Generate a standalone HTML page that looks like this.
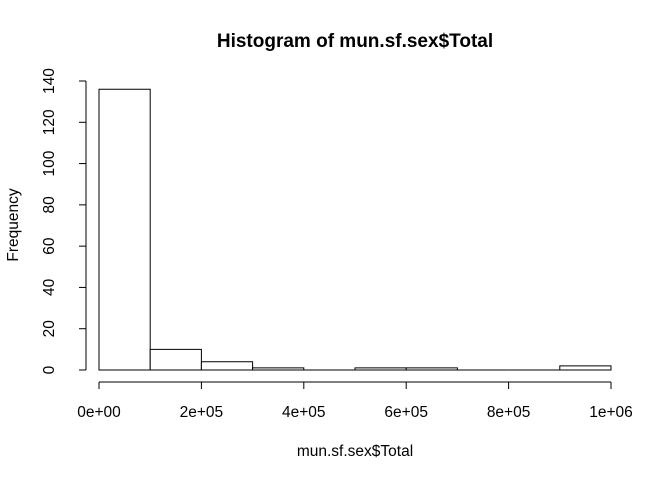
<!DOCTYPE html>
<html><head><meta charset="utf-8"><style>body{margin:0;background:#fff}svg{display:block;font-family:"Liberation Sans",sans-serif}</style></head>
<body>
<svg id="chart" width="672" height="480" xmlns="http://www.w3.org/2000/svg">
<text x="355" y="47" text-anchor="middle" font-weight="bold" font-size="19">Histogram of mun.sf.sex$Total</text>
<text x="355" y="456" text-anchor="middle" font-size="15.5">mun.sf.sex$Total</text>
<text transform="translate(18,225) rotate(-90)" text-anchor="middle" font-size="15.5">Frequency</text>
<g id="bars"></g><g id="xaxis"></g><g id="yaxis"></g>
</svg>
<script>
const binEdges = [0,100000,200000,300000,400000,500000,600000,700000,800000,900000,1000000];
const counts = [136,10,4,1,0,1,1,0,0,2];
const xTicks = [0,200000,400000,600000,800000,1000000];
const xTickLabels = ["0e+00","2e+05","4e+05","6e+05","8e+05","1e+06"];
const yTicks = [0,20,40,60,80,100,120,140];
const NS="http://www.w3.org/2000/svg";
const x=v=>99+v/1e6*512, y=v=>370-v*(289/140);
function mk(t,a,p){const e=document.createElementNS(NS,t);for(const k in a)e.setAttribute(k,a[k]);p.appendChild(e);return e;}
const bars=document.getElementById('bars');
counts.forEach((c,i)=>{
  const x0=x(binEdges[i]),x1=x(binEdges[i+1]),y0=y(0),y1=y(c);
  const r=mk('path',{d:`M${x0},${y0}L${x0},${y1}L${x1},${y1}L${x1},${y0}Z`,fill:'#fff',stroke:'#000','stroke-width':1},bars);
  
  
});
const xa=document.getElementById('xaxis');
mk('line',{x1:x(xTicks[0]),x2:x(xTicks[xTicks.length-1]),y1:382,y2:382,stroke:'#000'},xa);
xTicks.forEach((t,i)=>{
  mk('line',{x1:x(t),x2:x(t),y1:382,y2:389,stroke:'#000'},xa);
  const tx=mk('text',{x:x(t),y:417,'text-anchor':'middle','font-size':15.5},xa);tx.textContent=xTickLabels[i];
  
  
});
const ya=document.getElementById('yaxis');
mk('line',{x1:86,x2:86,y1:y(0),y2:y(140),stroke:'#000'},ya);
yTicks.forEach(t=>{
  mk('line',{x1:79,x2:86,y1:y(t),y2:y(t),stroke:'#000'},ya);
  const tx=mk('text',{transform:`translate(54,${y(t)}) rotate(-90)`,'text-anchor':'middle','font-size':15.5},ya);tx.textContent=t;
  
  
});
</script>
</body></html>
